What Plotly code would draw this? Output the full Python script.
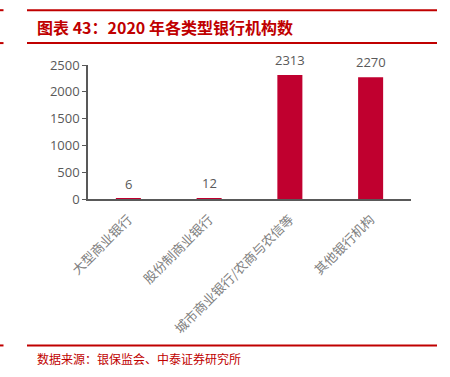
import plotly.graph_objects as go

categories = ["大型商业银行", "股份制商业银行", "城市商业银行/农商与农信等", "其他银行机构"]
values = [6, 12, 2313, 2270]
y_ticks = [0, 500, 1000, 1500, 2000, 2500]

title_text = "图表 43：2020 年各类型银行机构数"
source_text = "数据来源：银保监会、中泰证券研究所"

W, H = 450, 377
L, R, T, B = 88, 39, 65, 177.5
pw, ph = W - L - R, H - T - B

def px(x):
    return (x - L) / pw

def py(y):
    return (H - B - y) / ph

red = "#C00000"
gray = "#595959"
font_cjk = "Noto Sans CJK SC"

fig = go.Figure()
fig.add_trace(go.Bar(
    x=categories, y=values, width=0.31,
    marker=dict(color="#C0002F", line=dict(width=0)),
    hoverinfo="skip",
))

shapes = []
for yy in (10, 43, 346.5):
    shapes.append(dict(type="line", xref="paper", yref="paper",
                       x0=px(27), x1=px(437), y0=py(yy), y1=py(yy),
                       line=dict(color=red, width=2)))
    shapes.append(dict(type="line", xref="paper", yref="paper",
                       x0=px(0), x1=px(3.5), y0=py(yy), y1=py(yy),
                       line=dict(color=red, width=2)))

annotations = [
    dict(text="<b>" + title_text + "</b>", xref="paper", yref="paper",
         x=px(35), y=py(26.5), xanchor="left", yanchor="middle", showarrow=False,
         font=dict(size=16, color=red, family=font_cjk)),
    dict(text=source_text, xref="paper", yref="paper",
         x=px(35), y=py(360), xanchor="left", yanchor="middle", showarrow=False,
         font=dict(size=12, color=red, family=font_cjk)),
]
for c, v in zip(categories, values):
    annotations.append(dict(text=str(v), x=c, y=v, xref="x", yref="y",
                            yanchor="middle", yshift=15, showarrow=False,
                            font=dict(size=13, color=gray, family="Open Sans")))

fig.update_layout(
    width=W, height=H,
    margin=dict(l=L, r=R, t=T, b=B, pad=0),
    paper_bgcolor="white", plot_bgcolor="white",
    showlegend=False,
    shapes=shapes, annotations=annotations,
    xaxis=dict(
        type="category", tickangle=-45, showgrid=False, automargin=False,
        showline=True, linecolor="#595959", linewidth=1.5,
        ticks="outside", ticklen=6, tickcolor="rgba(0,0,0,0)",
        tickfont=dict(size=13, color="#808080", family=font_cjk),
    ),
    yaxis=dict(
        range=[0, 2500], tickvals=y_ticks, showgrid=False, automargin=False,
        showline=True, linecolor="#595959", linewidth=1.5,
        ticks="outside", ticklen=4, tickcolor="#595959",
        tickfont=dict(size=13, color=gray, family="Open Sans"),
        zeroline=False,
    ),
)

fig.write_html("out.html", config={"displayModeBar": False},
               post_script="document.body.style.margin='0';document.body.style.padding='0';")
